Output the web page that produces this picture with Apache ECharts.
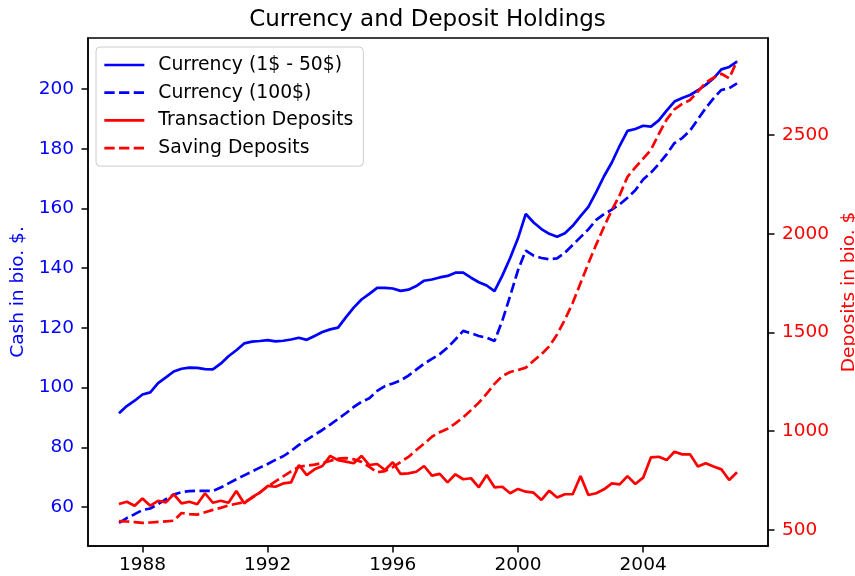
<!DOCTYPE html>
<html>
<head>
<meta charset="utf-8">
<title>Currency and Deposit Holdings</title>
<script src="https://cdn.jsdelivr.net/npm/echarts@6/dist/echarts.min.js"></script>
<style>
    html, body { margin: 0; padding: 0; background: #fff; }
    #chart { width: 855px; height: 576px; }
</style>
</head>
<body>
<div id="chart"></div>
<script>
// quarterly observations, first one is 1987 Q2
var startYear = 1987.25;

// Currency (1$ - 50$), bio. $
var cashSmall = [
    91.4, 93.8, 95.6, 97.7, 98.4, 101.5, 103.4, 105.4, 106.3, 106.7,
    106.6, 106.2, 106.1, 108.0, 110.5, 112.5, 114.8, 115.4, 115.6, 115.9,
    115.5, 115.7, 116.1, 116.7, 116.0, 117.3, 118.6, 119.5, 120.1, 123.5,
    126.8, 129.5, 131.4, 133.4, 133.4, 133.2, 132.4, 132.8, 134.0, 135.8,
    136.2, 136.9, 137.4, 138.5, 138.5, 136.8, 135.3, 134.2, 132.3, 137.5,
    143.4, 150.0, 158.2, 155.3, 153.1, 151.5, 150.5, 151.7, 154.2, 157.4,
    160.5, 165.5, 170.8, 175.4, 181.0, 186.0, 186.6, 187.7, 187.4, 189.5,
    192.8, 195.8, 197.0, 198.0, 199.6, 201.4, 203.6, 206.6, 207.4, 209.2
];

// Currency (100$), bio. $
var cashLarge = [
    54.7, 56.3, 57.6, 59.0, 59.5, 61.0, 62.6, 64.2, 65.0, 65.3,
    65.4, 65.4, 65.4, 66.5, 67.9, 69.3, 70.6, 71.9, 73.2, 74.4,
    75.8, 77.0, 78.8, 80.8, 82.5, 84.2, 85.8, 87.6, 89.5, 91.4,
    93.5, 95.2, 96.4, 98.9, 100.5, 101.4, 102.4, 104.0, 106.0, 108.0,
    109.6, 111.2, 113.4, 116.1, 119.0, 118.2, 117.3, 116.7, 115.6, 122.4,
    130.7, 139.3, 145.9, 144.2, 143.4, 143.0, 143.3, 145.2, 147.8, 150.4,
    153.0, 156.2, 158.1, 159.6, 161.4, 163.6, 166.1, 169.7, 172.0, 174.9,
    178.1, 181.9, 183.6, 186.1, 189.9, 193.6, 196.9, 199.7, 200.3, 201.9
];

// Transaction Deposits, bio. $
var transDeposits = [
    632, 643, 623, 660, 623, 648, 640, 681, 635, 643,
    630, 686, 638, 648, 638, 697, 635, 666, 689, 723,
    719, 736, 741, 829, 778, 807, 824, 875, 854, 846,
    838, 875, 829, 834, 804, 843, 784, 787, 795, 824,
    775, 784, 741, 782, 757, 762, 716, 778, 716, 719,
    686, 708, 694, 689, 652, 699, 664, 681, 681, 773,
    677, 686, 706, 736, 731, 773, 733, 765, 868, 871,
    854, 896, 883, 883, 821, 838, 821, 807, 753, 792
];

// Saving Deposits, bio. $
var savingDeposits = [
    545, 543, 540, 536, 538, 541, 544, 547, 586, 580,
    578, 590, 602, 612, 624, 633, 641, 662, 690, 720,
    746, 772, 797, 820, 826, 831, 839, 850, 862, 864,
    858, 845, 820, 792, 798, 818, 844, 870, 905, 937,
    972, 995, 1013, 1040, 1070, 1107, 1145, 1190, 1240, 1280,
    1300, 1310, 1322, 1357, 1390, 1430, 1490, 1565, 1650, 1750,
    1850, 1945, 2035, 2120, 2195, 2288, 2336, 2380, 2425, 2505,
    2578, 2630, 2657, 2677, 2720, 2765, 2790, 2810, 2787, 2876
];

var xTicks = [1988, 1992, 1996, 2000, 2004];
var cashTicks = [60, 80, 100, 120, 140, 160, 180, 200];
var depositTicks = [500, 1000, 1500, 2000, 2500];

(function (window, echarts) {
    var FONT = 'DejaVu Sans';
    var BLUE = '#0000ff';
    var RED = '#ff0000';
    var DASH = [10.3, 4.4];

    // pair every value with its quarter
    function toPoints(values) {
        return values.map(function (v, i) {
            return [startYear + i * 0.25, v];
        });
    }

    function plain(v) {
        return String(v);
    }

    function lineSeries(name, values, color, dashed, axisIndex) {
        return {
            name: name,
            type: 'line',
            yAxisIndex: axisIndex,
            data: toPoints(values),
            symbol: 'none',
            showSymbol: false,
            animation: false,
            color: color,
            lineStyle: {
                color: color,
                width: 2.7,
                type: dashed ? DASH : 'solid'
            }
        };
    }

    function yAxis(position, min, max, ticks, color, name, gap) {
        return {
            type: 'value',
            position: position,
            min: min,
            max: max,
            name: name,
            nameLocation: 'middle',
            nameRotate: 90,
            nameGap: gap,
            nameTextStyle: { color: color, fontSize: 18.5, fontFamily: FONT },
            axisLine: { show: true, lineStyle: { color: '#000', width: 1.5 } },
            axisTick: { show: true, length: 6.5, customValues: ticks, lineStyle: { color: '#000', width: 1.5 } },
            axisLabel: { customValues: ticks, color: color, fontSize: 18.5, fontFamily: FONT, margin: 14, formatter: plain },
            splitLine: { show: false }
        };
    }

    var chart = echarts.init(document.getElementById('chart'), null, { renderer: 'canvas' });
    chart.setOption({
        backgroundColor: '#fff',
        animation: false,
        title: {
            text: 'Currency and Deposit Holdings',
            left: 'center',
            top: 4,
            textStyle: { fontSize: 23, fontWeight: 'normal', color: '#000', fontFamily: FONT }
        },
        grid: {
            left: 88,
            right: 87,
            top: 38,
            bottom: 30,
            outerBoundsMode: 'none',
            containLabel: false,
            show: true,
            borderColor: '#000',
            borderWidth: 1.5,
            backgroundColor: 'transparent'
        },
        legend: {
            orient: 'vertical',
            left: 96,
            top: 47,
            itemWidth: 40,
            itemHeight: 14,
            itemGap: 7.7,
            padding: [8, 10, 8, 7],
            backgroundColor: 'rgba(255,255,255,0.8)',
            borderColor: '#cccccc',
            borderWidth: 1,
            borderRadius: 4,
            // hide the marker that ECharts puts in the middle of a line icon
            itemStyle: { opacity: 0 },
            lineStyle: { width: 2.7 },
            textStyle: { fontSize: 18.8, fontFamily: FONT, color: '#000', lineHeight: 20, padding: [0, 0, 0, 9] },
            data: ['Currency (1$ - 50$)', 'Currency (100$)', 'Transaction Deposits', 'Saving Deposits']
        },
        xAxis: {
            type: 'value',
            min: 1986.26,
            max: 2007.99,
            axisLine: { lineStyle: { color: '#000', width: 1.5 } },
            axisTick: { length: 6.5, customValues: xTicks, lineStyle: { color: '#000', width: 1.5 } },
            axisLabel: { customValues: xTicks, color: '#000', fontSize: 18.5, fontFamily: FONT, margin: 10, formatter: plain },
            splitLine: { show: false }
        },
        yAxis: [
            yAxis('left', 46.94, 217.1, cashTicks, BLUE, 'Cash in bio. $.', 56),
            yAxis('right', 419, 2991, depositTicks, RED, 'Deposits in bio. $', 68)
        ],
        series: [
            lineSeries('Currency (1$ - 50$)', cashSmall, BLUE, false, 0),
            lineSeries('Currency (100$)', cashLarge, BLUE, true, 0),
            lineSeries('Transaction Deposits', transDeposits, RED, false, 1),
            lineSeries('Saving Deposits', savingDeposits, RED, true, 1)
        ]
    });
})(window, echarts);
</script>
</body>
</html>
